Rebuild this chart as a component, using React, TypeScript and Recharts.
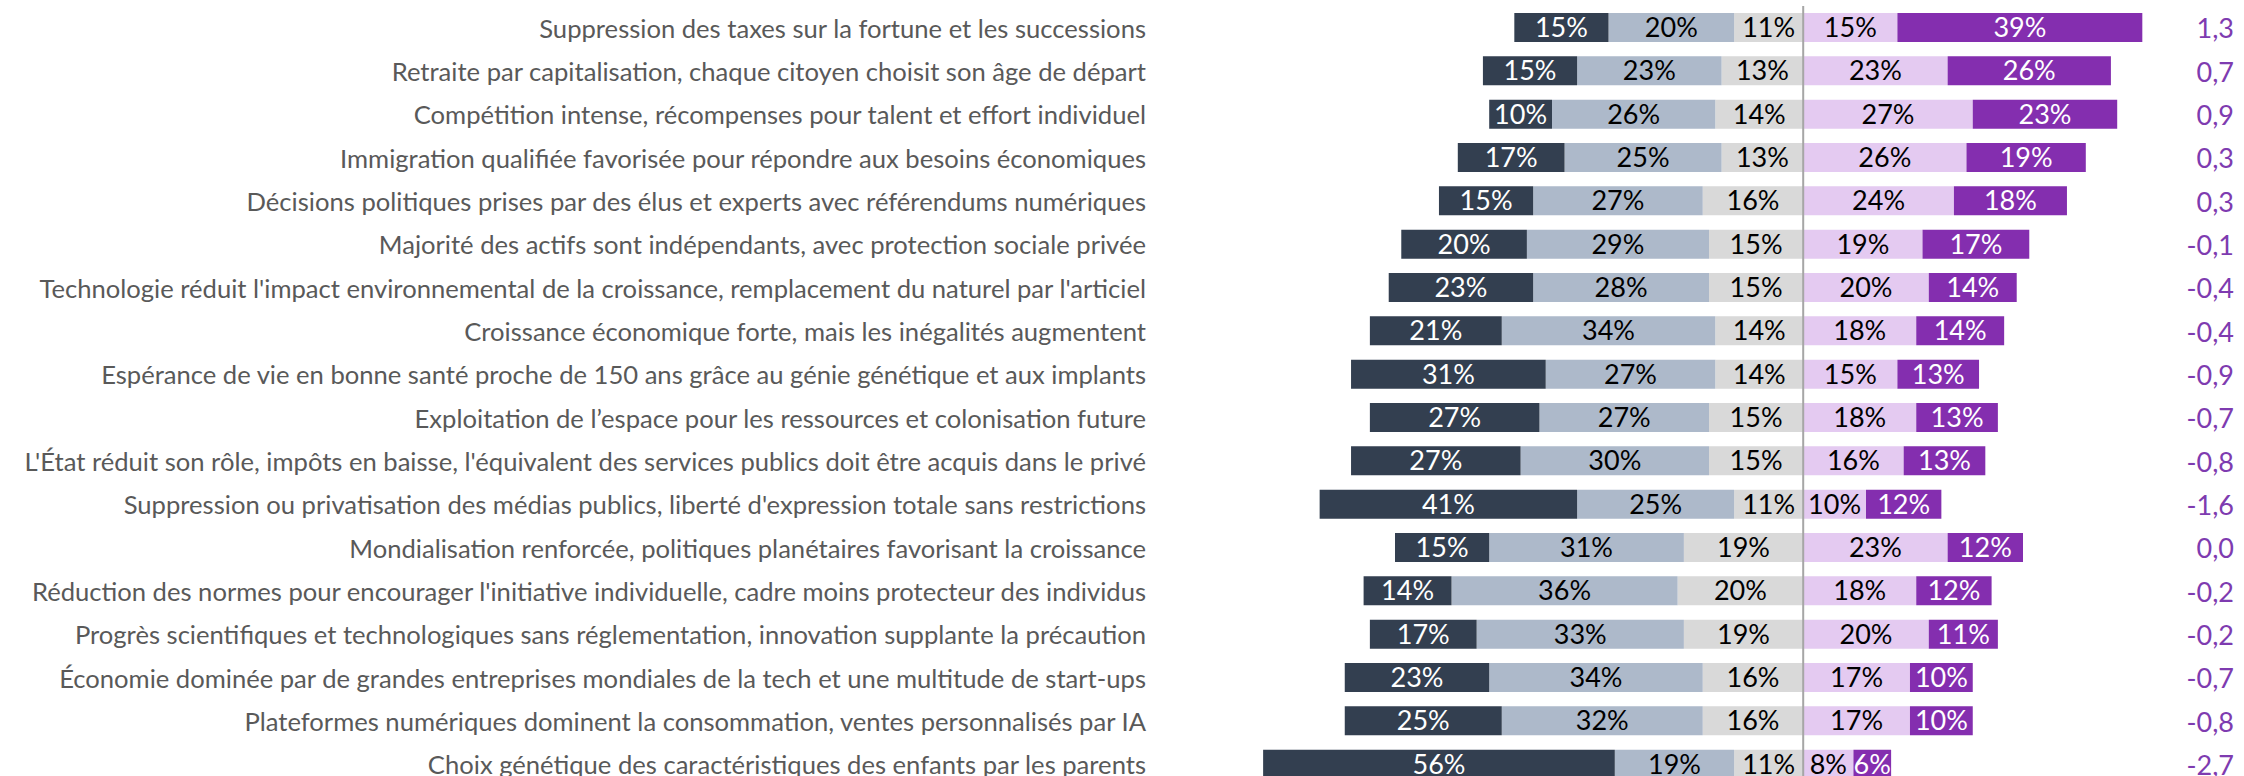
import { BarChart, Bar, XAxis, YAxis, ReferenceLine, LabelList } from "recharts";

const statements = [
  "Suppression des taxes sur la fortune et les successions",
  "Retraite par capitalisation, chaque citoyen choisit son âge de départ",
  "Compétition intense, récompenses pour talent et effort individuel",
  "Immigration qualifiée favorisée pour répondre aux besoins économiques",
  "Décisions politiques prises par des élus et experts avec référendums numériques",
  "Majorité des actifs sont indépendants, avec protection sociale privée",
  "Technologie réduit l'impact environnemental de la croissance, remplacement du naturel par l'articiel",
  "Croissance économique forte, mais les inégalités augmentent",
  "Espérance de vie en bonne santé proche de 150 ans grâce au génie génétique et aux implants",
  "Exploitation de l’espace pour les ressources et colonisation future",
  "L'État réduit son rôle, impôts en baisse, l'équivalent des services publics doit être acquis dans le privé",
  "Suppression ou privatisation des médias publics, liberté d'expression totale sans restrictions",
  "Mondialisation renforcée, politiques planétaires favorisant la croissance",
  "Réduction des normes pour encourager l'initiative individuelle, cadre moins protecteur des individus",
  "Progrès scientifiques et technologiques sans réglementation, innovation supplante la précaution",
  "Économie dominée par de grandes entreprises mondiales de la tech et une multitude de start-ups",
  "Plateformes numériques dominent la consommation, ventes personnalisés par IA",
  "Choix génétique des caractéristiques des enfants par les parents",
];

const stronglyDisagree = [15, 15, 10, 17, 15, 20, 23, 21, 31, 27, 27, 41, 15, 14, 17, 23, 25, 56];
const disagree = [20, 23, 26, 25, 27, 29, 28, 34, 27, 27, 30, 25, 31, 36, 33, 34, 32, 19];
const neutral = [11, 13, 14, 13, 16, 15, 15, 14, 14, 15, 15, 11, 19, 20, 19, 16, 16, 11];
const agree = [15, 23, 27, 26, 24, 19, 20, 18, 15, 18, 16, 10, 23, 18, 20, 17, 17, 8];
const stronglyAgree = [39, 26, 23, 19, 18, 17, 14, 14, 13, 13, 13, 12, 12, 12, 11, 10, 10, 6];
const scores = ["1,3", "0,7", "0,9", "0,3", "0,3", "-0,1", "-0,4", "-0,4", "-0,9", "-0,7", "-0,8", "-1,6", "0,0", "-0,2", "-0,2", "-0,7", "-0,8", "-2,7"];

// disagree side is stacked to the left of zero (stackOffset="sign")
const data = statements.map((name, i) => ({
  name,
  neutral: -neutral[i],
  disagree: -disagree[i],
  stronglyDisagree: -stronglyDisagree[i],
  agree: agree[i],
  stronglyAgree: stronglyAgree[i],
}));

const FONT = "Lato, 'Open Sans', sans-serif";
const pct = (v: any) => `${Math.abs(Number(v))}%`;

const StatementTick = ({ y, payload }: any) => (
  <text x={1146} y={y} textAnchor="end" dominantBaseline="central" fill="#595959" fontSize={25.6} fontFamily={FONT}>
    {payload.value}
  </text>
);

const ScoreTick = ({ y, payload }: any) => (
  <text x={2234} y={y} textAnchor="end" dominantBaseline="central" fill="#7E3BB0" fontSize={27} fontFamily={FONT}>
    {scores[payload.index]}
  </text>
);

const series = [
  { key: "neutral", fill: "#D9D9D9", text: "#000" },
  { key: "disagree", fill: "#ADB9CA", text: "#000" },
  { key: "stronglyDisagree", fill: "#333F50", text: "#fff" },
  { key: "agree", fill: "#E4CAF1", text: "#000" },
  { key: "stronglyAgree", fill: "#842EAF", text: "#fff" },
];

export default function App() {
  return (
    <div style={{ position: "absolute", left: 0, top: 0, background: "#fff" }}>
      <BarChart
        width={2244}
        height={790}
        data={data}
        layout="vertical"
        stackOffset="sign"
        margin={{ top: 6, right: 0, bottom: 4, left: 0 }}
      >
        <XAxis type="number" domain={[-90, 60]} hide />
        <YAxis
          yAxisId="cat"
          type="category"
          dataKey="name"
          width={1238}
          axisLine={false}
          tickLine={false}
          interval={0}
          tick={<StatementTick />}
        />
        <YAxis
          yAxisId="score"
          orientation="right"
          type="category"
          dataKey="name"
          width={64}
          axisLine={false}
          tickLine={false}
          interval={0}
          tick={<ScoreTick />}
        />
        {series.map((s) => (
          <Bar
            key={s.key}
            yAxisId="cat"
            dataKey={s.key}
            stackId="a"
            fill={s.fill}
            barSize={29}
            isAnimationActive={false}
          >
            <LabelList
              dataKey={s.key}
              position="center"
              formatter={pct}
              fill={s.text}
              fontSize={27}
              fontFamily={FONT}
            />
          </Bar>
        ))}
        <ReferenceLine yAxisId="cat" x={0} stroke="#A6A6A6" strokeWidth={2} />
      </BarChart>
    </div>
  );
}
